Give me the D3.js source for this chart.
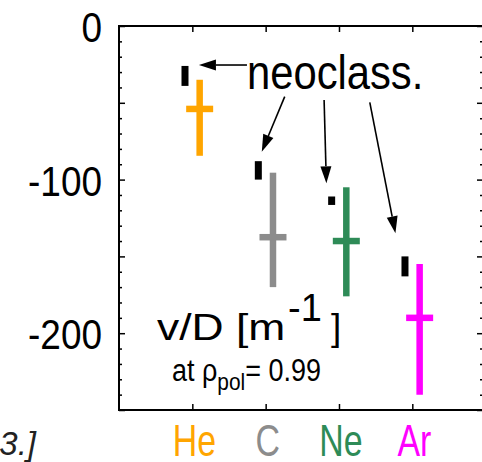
<!DOCTYPE html>
<html>
<head>
<meta charset="utf-8">
<script src="https://cdn.jsdelivr.net/npm/d3@7"></script>
<style>
  body { margin: 0; background: #fff; }
  svg { display: block; }
</style>
</head>
<body>
<script>
const species = ['He', 'C', 'Ne', 'Ar'];
const speciesColors = ['#ffa500', '#8c8c8c', '#2e8b57', '#ff00ff'];
// measured v/D with error bar
const vdCenter = [-54, -137.5, -140, -190];
const vdLow = [-84.5, -170, -176, -240];
const vdHigh = [-35, -95.5, -105, -155];
// neoclassical prediction
const neoLow = [-39, -100, -116.5, -163];
const neoHigh = [-26, -88, -111, -150];
const yTickLabels = [0, -100, -200];
// arrows from the "neoclass." label, in data units (x = species index + 1)
const arrowFrom = [[1.745, -25.4], [2.26, -46], [2.797, -48.2], [3.42, -49.7]];
const arrowTo = [[1.09, -25.4], [1.947, -81.8], [2.828, -102.4], [3.77, -135]];

const W = 482;
const H = 462;
const margin = { top: 26, right: -1, bottom: 52, left: 119 };
const font = '"Liberation Sans", Arial, Helvetica, sans-serif';

const svg = d3.select('body').append('svg')
  .attr('width', W)
  .attr('height', H)
  .style('font-family', font);

const x = d3.scaleLinear()
  .domain([0, 4.964])
  .range([margin.left, W - margin.right]);
const y = d3.scaleLinear()
  .domain([-250, 0])
  .range([H - margin.bottom, margin.top]);
const [x0, x1] = x.range();
const [yb, yt] = y.range();

const majors = d3.range(-250, 1, 50);
const minors = d3.range(-250, 1, 10).filter(v => v % 50 !== 0);
const catTicks = species.map((s, i) => i + 1);

function tickAxis(axis, transform) {
  const g = svg.append('g').attr('transform', transform).call(axis);
  g.select('.domain').remove();
  g.selectAll('line').attr('stroke', '#000').attr('stroke-width', 1.5);
  return g;
}

// inner ticks on all four sides
tickAxis(d3.axisRight(y).tickValues(majors).tickSize(6).tickFormat(''), `translate(${x0},0)`);
tickAxis(d3.axisRight(y).tickValues(minors).tickSize(3).tickFormat(''), `translate(${x0},0)`);
tickAxis(d3.axisLeft(y).tickValues(majors).tickSize(6).tickFormat(''), `translate(${x1},0)`);
tickAxis(d3.axisLeft(y).tickValues(minors).tickSize(3).tickFormat(''), `translate(${x1},0)`);
tickAxis(d3.axisBottom(x).tickValues(catTicks).tickSize(6).tickFormat(''), `translate(0,${yt})`);
tickAxis(d3.axisTop(x).tickValues(catTicks).tickSize(6).tickFormat(''), `translate(0,${yb})`);

svg.append('rect')
  .attr('x', x0)
  .attr('y', yt)
  .attr('width', x1 - x0)
  .attr('height', yb - yt)
  .attr('fill', 'none')
  .attr('stroke', '#000')
  .attr('stroke-width', 2);

// y tick labels
svg.append('g')
  .selectAll('text')
  .data(yTickLabels)
  .enter()
  .append('text')
  .attr('transform', d => `translate(102,${y(d) + 16}) scale(0.88,1)`)
  .attr('text-anchor', 'end')
  .style('font-size', '42px')
  .text(d => d);

// species labels
svg.append('g')
  .selectAll('text')
  .data(species)
  .enter()
  .append('text')
  .attr('transform', (d, i) => `translate(${x(i + 1) + 2},456) scale(0.77,1)`)
  .attr('text-anchor', 'middle')
  .attr('fill', (d, i) => speciesColors[i])
  .style('font-size', '44px')
  .text(d => d);

// neoclassical markers
svg.append('g')
  .selectAll('rect')
  .data(species)
  .enter()
  .append('rect')
  .attr('x', (d, i) => x(i + 1 - 0.1) - 3.5)
  .attr('y', (d, i) => y(neoHigh[i]))
  .attr('width', 7)
  .attr('height', (d, i) => y(neoLow[i]) - y(neoHigh[i]))
  .attr('fill', '#000');

// measured values: vertical error bar + horizontal bar at the value
const crosses = svg.append('g')
  .selectAll('g')
  .data(species)
  .enter()
  .append('g')
  .attr('stroke', (d, i) => speciesColors[i])
  .attr('stroke-width', 6.5);
crosses.append('line')
  .attr('x1', (d, i) => x(i + 1 + 0.1))
  .attr('x2', (d, i) => x(i + 1 + 0.1))
  .attr('y1', (d, i) => y(vdHigh[i]))
  .attr('y2', (d, i) => y(vdLow[i]));
crosses.append('line')
  .attr('x1', (d, i) => x(i + 1 + 0.1) - 13.5)
  .attr('x2', (d, i) => x(i + 1 + 0.1) + 13.5)
  .attr('y1', (d, i) => y(vdCenter[i]))
  .attr('y2', (d, i) => y(vdCenter[i]));

// arrows
const headLen = 17;
const headHalf = 5.5;
arrowFrom.forEach((from, i) => {
  const sx = x(from[0]);
  const sy = y(from[1]);
  const tx = x(arrowTo[i][0]);
  const ty = y(arrowTo[i][1]);
  const len = Math.hypot(tx - sx, ty - sy);
  const ux = (tx - sx) / len;
  const uy = (ty - sy) / len;
  const bx = tx - ux * headLen;
  const by = ty - uy * headLen;
  svg.append('line')
    .attr('x1', sx).attr('y1', sy)
    .attr('x2', bx).attr('y2', by)
    .attr('stroke', '#000')
    .attr('stroke-width', 1.6);
  svg.append('path')
    .attr('d', `M${tx},${ty}L${bx - uy * headHalf},${by + ux * headHalf}L${bx + uy * headHalf},${by - ux * headHalf}Z`)
    .attr('fill', '#000');
});

// annotations
svg.append('text')
  .attr('transform', 'translate(247,89) scale(0.87,1)')
  .style('font-size', '48px')
  .text('neoclass.');

svg.append('text')
  .attr('transform', 'translate(157,340) scale(1.2,1)')
  .style('font-size', '37px')
  .text('v/D [m');
svg.append('text')
  .attr('transform', 'translate(288,321)')
  .style('font-size', '38px')
  .text('-1');
svg.append('text')
  .attr('transform', 'translate(331,340)')
  .style('font-size', '37px')
  .text(']');

const at = svg.append('text')
  .attr('transform', 'translate(172,381) scale(0.87,1)')
  .style('font-size', '31px');
at.append('tspan').text('at \u03c1');
at.append('tspan').attr('dy', 9).style('font-size', '24px').text('pol');
at.append('tspan').attr('dy', -9).text('= 0.99');

svg.append('text')
  .attr('x', 36)
  .attr('y', 455)
  .attr('text-anchor', 'end')
  .style('font-size', '33px')
  .style('font-style', 'italic')
  .attr('fill', '#222')
  .text('3.]');
</script>
</body>
</html>
